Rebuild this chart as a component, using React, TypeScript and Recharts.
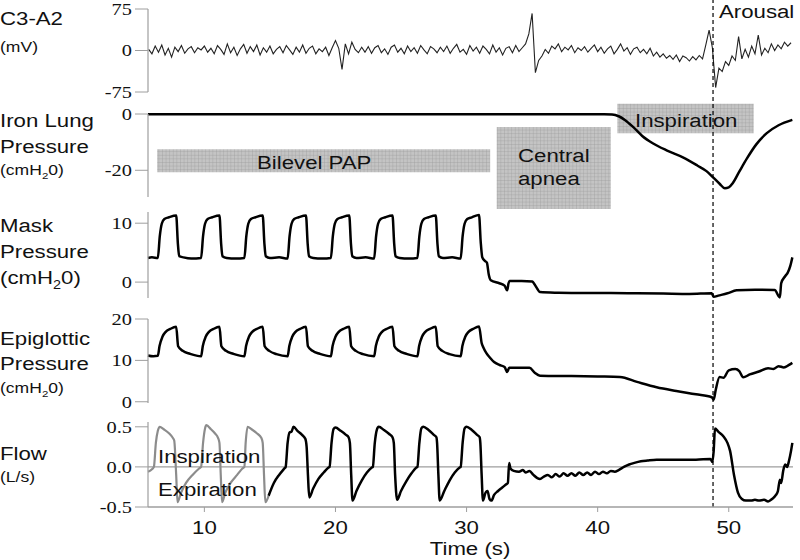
import React from 'react'
import { LineChart, Line, XAxis, YAxis, ReferenceArea, ReferenceLine } from 'recharts'

// time axis (s)
const X_DOMAIN: [number, number] = [5.7, 54.9]
const timeTicks = [10, 20, 30, 40, 50]

// C3-A2 EEG (mV), sampled every 0.25 s from 5.75 s
const eegStart = 5.75
const eegStep = 0.25
const eegValues = [
  2, -6, 8, -3, 10, -8, 4, -12, 6, -2, 9, -5, 3, 7, -4, 5, 1, 8, -3, 4,
  -6, 9, 2, -7, 12, -4, 6, -9, 3, 11, -5, 7, -2, 10, -8, 5, -3, 8, -6, 2,
  7, -4, 9, 1, -7, 6, -3, 10, -5, 4, 8, -6, 3, -2, 6, -9, 5, 18, 4, -34,
  12, -6, 15, 2, -4, 6, -3, 7, -5, 5, 9, -4, 3, -7, 6, 10, -3, 4, -6, 8,
  -2, 5, -5, 9, 1, -6, 7, 3, -4, 6, -2, 8, -5, 4, 11, -3, 2, -7, 9, -1,
  6, -5, 8, 2, -6, 10, -3, 5, -8, 4, 7, -4, 9, -2, 5, 12, 30, 67, -40, -18,
  -10, 2, -5, 8, 3, 12, -2, 6, 1, 9, -4, 5, 0, 7, -3, 4, 10, -2, 6, -5,
  3, 8, -6, 2, 12, -1, 5, -7, 3, 6, -4, 2, -6, 4, -10, -3, -12, -6, -14, -9,
  -16, -8, -20, -10, -13, -19, -11, -17, -9, -15, 10, 37, 5, -67, -32, -38, -20, -27, -10, -18,
  25, -15, 2, -12, 8, -6, 28, -8, 4, -4, 12, 0, 10, 3, 15, 8, 14,
]

// Iron lung pressure (cmH2O) [t, value]
const ironLung: [number, number][] = [
  [5.7, -0.1], [10, -0.1], [20, -0.1], [30, -0.05], [38, -0.1], [40.5, -0.1], [41.1, -0.2],
  [41.6, -0.8], [42.1, -2.2], [42.7, -4.6], [43.4, -7.8], [44.2, -10.4], [45.3, -13.0],
  [46.5, -15.4], [47.6, -18.3], [48.3, -20.3], [48.8, -22.5], [49.3, -24.8], [49.7, -26.4],
  [50.0, -26.1], [50.3, -24.6], [50.8, -20.5], [51.4, -15.7], [52.1, -10.8], [52.9, -6.8],
  [53.8, -4.0], [54.85, -2.1],
]

// Mask pressure (cmH2O)
const maskPressure: [number, number][] = [
  [5.7, 4.1], [6.0, 4.2], [6.45, 4.1],
  [6.6, 7.8], [6.75, 9.9], [6.95, 10.7], [7.3, 11.0], [7.85, 11.3], [7.98, 6.5], [8.08, 4.4], [8.4, 4.2], [9.0, 4.0], [9.75, 4.1],
  [9.9, 7.8], [10.05, 9.9], [10.25, 10.7], [10.6, 11.0], [11.15, 11.3], [11.28, 6.5], [11.38, 4.4], [11.7, 4.1], [12.4, 4.0], [13.05, 4.1],
  [13.2, 7.8], [13.35, 9.9], [13.55, 10.7], [13.9, 11.0], [14.45, 11.3], [14.58, 6.5], [14.68, 4.4], [15.0, 4.1], [15.7, 4.2], [16.35, 4.0],
  [16.5, 7.8], [16.65, 9.9], [16.85, 10.7], [17.2, 11.0], [17.75, 11.3], [17.88, 6.5], [17.98, 4.4], [18.3, 4.1], [19.0, 4.0], [19.65, 4.1],
  [19.8, 7.8], [19.95, 9.9], [20.15, 10.7], [20.5, 11.0], [21.05, 11.3], [21.18, 6.5], [21.28, 4.4], [21.6, 4.1], [22.3, 4.2], [22.95, 4.0],
  [23.1, 7.8], [23.25, 9.9], [23.45, 10.7], [23.8, 11.0], [24.35, 11.3], [24.48, 6.5], [24.58, 4.4], [24.9, 4.1], [25.6, 4.0], [26.25, 4.1],
  [26.4, 7.8], [26.55, 9.9], [26.75, 10.7], [27.1, 11.0], [27.65, 11.3], [27.78, 6.5], [27.88, 4.4], [28.2, 4.1], [28.9, 4.2], [29.55, 4.0],
  [29.7, 7.8], [29.85, 9.9], [30.05, 10.7], [30.4, 11.0], [30.95, 11.4], [31.08, 6.8], [31.2, 4.2], [31.4, 3.6],
  [31.55, 3.3], [31.7, 1.2], [31.85, 0.3], [32.5, -0.2], [32.9, -0.6], [33.1, -1.4], [33.2, -0.2], [33.3, 0.2],
  [34.2, 0.2], [35.0, 0.1], [35.3, -0.8], [35.6, -1.7], [37, -1.8], [39, -1.85], [41, -1.85], [43, -1.9],
  [45, -1.95], [47, -2.0], [48.7, -1.9], [48.85, -2.5], [49.2, -2.3], [49.9, -1.9], [50.6, -1.4], [52, -1.3],
  [53.5, -1.35], [53.9, -2.6], [54.0, -0.2], [54.3, 1.0], [54.5, 1.6], [54.7, 2.8], [54.85, 4.2],
]

// Epiglottic pressure (cmH2O)
const epiglotticPressure: [number, number][] = [
  [5.7, 11.2], [6.1, 11.0], [6.45, 11.1],
  [6.58, 13.5], [6.8, 15.7], [7.05, 16.9], [7.4, 17.6], [7.85, 18.1], [8.0, 13.4], [8.35, 12.3], [8.9, 11.6], [9.75, 11.0],
  [9.88, 13.5], [10.1, 15.7], [10.35, 16.9], [10.7, 17.6], [11.15, 18.1], [11.3, 13.4], [11.65, 12.3], [12.2, 11.6], [13.05, 11.0],
  [13.18, 13.5], [13.4, 15.7], [13.65, 16.9], [14.0, 17.6], [14.45, 18.1], [14.6, 13.4], [14.95, 12.3], [15.5, 11.5], [16.35, 11.0],
  [16.48, 13.5], [16.7, 15.7], [16.95, 16.9], [17.3, 17.6], [17.75, 18.1], [17.9, 13.4], [18.25, 12.3], [18.8, 11.6], [19.65, 11.0],
  [19.78, 13.5], [20.0, 15.7], [20.25, 16.9], [20.6, 17.6], [21.05, 18.1], [21.2, 13.4], [21.55, 12.3], [22.1, 11.5], [22.95, 11.0],
  [23.08, 13.5], [23.3, 15.7], [23.55, 16.9], [23.9, 17.6], [24.35, 18.1], [24.5, 13.4], [24.85, 12.3], [25.4, 11.6], [26.25, 11.0],
  [26.38, 13.5], [26.6, 15.7], [26.85, 16.9], [27.2, 17.6], [27.65, 18.1], [27.8, 13.4], [28.15, 12.3], [28.7, 11.5], [29.55, 11.0],
  [29.68, 13.5], [29.9, 15.7], [30.15, 16.9], [30.5, 17.6], [30.95, 18.2], [31.15, 14.2], [31.3, 13.0], [31.5, 11.8],
  [31.8, 10.6], [32.1, 9.6], [32.5, 8.9], [32.9, 8.4], [33.1, 7.2], [33.25, 8.2], [34.8, 8.2], [35.2, 7.0],
  [35.6, 6.3], [38, 6.2], [40, 6.1], [41.7, 6.0], [43, 4.8], [44.5, 3.5], [46, 2.6], [47.5, 1.8], [48.7, 1.1],
  [48.85, 0.5], [49.0, 2.8], [49.3, 6.0], [49.6, 5.8], [50.0, 7.6], [50.5, 7.9], [50.8, 7.4], [51.1, 5.9],
  [51.6, 6.6], [52.3, 7.3], [53.0, 8.1], [53.4, 7.9], [53.8, 8.6], [54.2, 8.3], [54.6, 8.9], [54.85, 9.4],
]

// Flow (L/s) - first breaths drawn in grey
const flowGrey: [number, number][] = [
  [5.7, -0.06], [6.0, -0.03], [6.15, 0.0], [6.3, 0.3], [6.45, 0.45], [6.6, 0.5], [6.9, 0.47], [7.3, 0.42],
  [7.6, 0.36], [7.7, 0.33], [7.85, -0.1], [7.95, -0.44], [8.2, -0.33], [8.6, -0.2], [9.1, -0.1], [9.6, -0.02],
  [9.75, 0.0], [9.9, 0.3], [10.05, 0.48], [10.15, 0.52], [10.5, 0.47], [10.8, 0.42], [11.05, 0.36], [11.15, 0.3],
  [11.25, -0.1], [11.35, -0.44], [11.6, -0.32], [12.0, -0.2], [12.5, -0.1], [12.9, -0.02], [13.05, 0.0], [13.15, 0.3],
  [13.3, 0.5], [13.6, 0.47], [14.0, 0.42], [14.35, 0.36], [14.45, 0.3], [14.55, -0.1], [14.65, -0.44], [14.9, -0.36],
]
const flowBlack: [number, number][] = [
  [14.9, -0.36], [15.3, -0.2], [15.7, -0.1], [16.1, -0.02],
  [16.2, 0.0], [16.35, 0.3], [16.5, 0.43], [16.65, 0.44], [16.8, 0.5], [17.1, 0.45], [17.45, 0.4], [17.7, 0.35],
  [17.8, 0.25], [17.9, -0.1], [18.0, -0.38], [18.3, -0.27], [18.7, -0.15], [19.1, -0.07], [19.45, -0.01],
  [19.55, 0.0], [19.7, 0.3], [19.85, 0.47], [20.0, 0.49], [20.4, 0.45], [20.8, 0.4], [21.0, 0.37], [21.1, 0.3],
  [21.2, -0.1], [21.3, -0.42], [21.6, -0.3], [22.0, -0.17], [22.4, -0.07], [22.75, -0.01],
  [22.85, 0.0], [23.0, 0.3], [23.15, 0.46], [23.3, 0.5], [23.7, 0.46], [24.1, 0.41], [24.35, 0.37], [24.45, 0.3],
  [24.55, -0.1], [24.7, -0.41], [25.0, -0.3], [25.4, -0.18], [25.8, -0.08], [26.15, -0.01],
  [26.25, 0.0], [26.4, 0.3], [26.55, 0.48], [26.7, 0.5], [27.1, 0.46], [27.5, 0.4], [27.7, 0.37], [27.75, 0.3],
  [27.85, -0.1], [27.95, -0.42], [28.3, -0.3], [28.7, -0.17], [29.1, -0.07], [29.45, -0.01],
  [29.55, 0.0], [29.7, 0.3], [29.85, 0.48], [30.0, 0.5], [30.4, 0.46], [30.8, 0.4], [31.0, 0.37], [31.05, 0.3],
  [31.15, -0.1], [31.25, -0.42], [31.45, -0.32], [31.6, -0.3], [31.75, -0.4], [31.9, -0.42], [32.1, -0.35],
  [32.4, -0.3], [32.7, -0.26], [33.0, -0.22], [33.15, -0.2], [33.25, 0.05], [33.35, -0.02], [33.6, -0.05],
  [34.0, -0.06], [34.3, -0.04], [34.5, -0.07], [34.8, -0.05], [35.1, -0.1], [35.4, -0.14], [35.6, -0.15],
  [35.9, -0.12], [36.2, -0.1], [36.5, -0.13], [36.8, -0.09], [37.1, -0.12], [37.4, -0.08], [37.7, -0.11],
  [38.0, -0.08], [38.3, -0.11], [38.6, -0.07], [38.9, -0.1], [39.2, -0.07], [39.5, -0.1], [39.8, -0.06],
  [40.1, -0.09], [40.4, -0.06], [40.7, -0.08], [41.0, -0.05], [41.3, -0.06], [41.6, -0.04], [42.0, 0.0],
  [42.4, 0.03], [42.8, 0.05], [43.3, 0.07], [43.8, 0.08], [44.5, 0.09], [46, 0.09], [47.5, 0.09], [48.6, 0.1],
  [48.75, 0.06], [48.85, 0.2], [48.95, 0.48], [49.2, 0.44], [49.6, 0.38], [49.9, 0.3], [50.1, 0.2], [50.4, -0.1],
  [50.7, -0.32], [51.0, -0.4], [51.3, -0.42], [51.7, -0.42], [52.0, -0.41], [52.3, -0.42], [52.7, -0.41],
  [53.0, -0.43], [53.3, -0.4], [53.6, -0.35], [53.75, -0.3], [53.9, -0.16], [54.0, -0.2], [54.15, -0.05],
  [54.3, 0.03], [54.45, 0.0], [54.6, 0.08], [54.75, 0.2], [54.85, 0.3],
]

// annotations
const arousalTime = 48.8
const bilevelBox = { x1: 6.4, x2: 31.8, y1: -12.5, y2: -20.7 }
const apneaBox = { x1: 32.3, x2: 41.0, y1: -4.6, y2: -33.8 }
const inspBox = { x1: 41.5, x2: 51.9, y1: 3.6, y2: -6.8 }

const W = 800
const H = 560
const PLOT_LEFT = 148
const PLOT_RIGHT = 793
const AXIS_W = 60
const STRETCH = 1.17
const SANS = '"Liberation Sans", Arial, sans-serif'
const SERIF = '"Liberation Serif", "DejaVu Serif", serif'
const GREY = '#9e9e9e'

const rows = (pts: [number, number][]) => pts.map(([t, v]) => ({ t, v }))
const eegRows = eegValues.map((v, i) => ({ t: eegStart + i * eegStep, v }))

function SerifTick(props: any) {
  const { x, y, payload, digits = 0 } = props
  return (
    <g transform={`translate(${x},${y}) scale(1.2,1)`}>
      <text textAnchor="end" dy="0.35em" fontFamily={SERIF} fontSize={17} fill="#111">
        {Number(payload.value).toFixed(digits)}
      </text>
    </g>
  )
}

function TimeTick(props: any) {
  const { x, y, payload } = props
  return (
    <g transform={`translate(${x},${y}) scale(${STRETCH},1)`}>
      <text textAnchor="middle" dy="0.71em" fontFamily={SANS} fontSize={19} fill="#111">
        {payload.value}
      </text>
    </g>
  )
}

function Trace({ top, bottom, yDomain, yTicks, digits = 0, showTime = false, children }: any) {
  return (
    <div style={{ position: 'absolute', left: 0, top: 0 }}>
      <LineChart
        width={W}
        height={H}
        margin={{ top, bottom: H - bottom - (showTime ? 30 : 0), left: PLOT_LEFT - AXIS_W, right: W - PLOT_RIGHT }}
      >
        <XAxis
          dataKey="t"
          type="number"
          domain={X_DOMAIN}
          ticks={timeTicks}
          hide={!showTime}
          height={30}
          tickSize={5}
          tickMargin={9}
          axisLine={{ stroke: GREY, strokeWidth: 1.5 }}
          tickLine={{ stroke: GREY }}
          tick={<TimeTick />}
        />
        <YAxis
          type="number"
          domain={yDomain}
          ticks={yTicks}
          interval={0}
          width={AXIS_W}
          tickSize={13}
          tickMargin={3}
          axisLine={{ stroke: GREY, strokeWidth: 1.2 }}
          tickLine={{ stroke: GREY }}
          tick={(p: any) => <SerifTick {...p} digits={digits} />}
        />
        {children}
      </LineChart>
    </div>
  )
}

function Txt({ x, y, size = 19, anchor = 'start', children }: any) {
  return (
    <text
      transform={`translate(${x} ${y}) scale(${STRETCH} 1)`}
      fontFamily={SANS}
      fontSize={size}
      textAnchor={anchor}
      fill="#111"
    >
      {children}
    </text>
  )
}

function CmH2O({ x, y, size }: any) {
  return (
    <Txt x={x} y={y} size={size}>
      <tspan>(cmH</tspan>
      <tspan fontSize={size * 0.65} dy={size * 0.25}>2</tspan>
      <tspan dy={-size * 0.25}>0)</tspan>
    </Txt>
  )
}

export default function App() {
  const box = { fill: 'url(#hatch)', fillOpacity: 1, stroke: 'none', ifOverflow: 'visible' as const }
  return (
    <div style={{ position: 'relative', width: W, height: H, background: '#fff', overflow: 'hidden' }}>
      <style>{'body{margin:0}'}</style>
      <svg width={0} height={0} style={{ position: 'absolute' }}>
        <defs>
          <pattern id="hatch" width={3.6} height={3.6} patternUnits="userSpaceOnUse">
            <rect width={3.6} height={3.6} fill="#c4c4c4" />
            <path d="M 3.6 0 L 0 0 0 3.6" fill="none" stroke="#9a9a9a" strokeWidth={0.7} />
          </pattern>
        </defs>
      </svg>

      <Trace top={9} bottom={92} yDomain={[-75, 75]} yTicks={[-75, 0, 75]}>
        <Line data={eegRows} dataKey="v" type="linear" stroke="#222" strokeWidth={1.1} dot={false} activeDot={false} isAnimationActive={false} />
      </Trace>

      <Trace top={114} bottom={197} yDomain={[-29.5, 0]} yTicks={[-20, 0]}>
        <ReferenceArea {...bilevelBox} {...box} />
        <ReferenceArea {...apneaBox} {...box} />
        <ReferenceArea {...inspBox} {...box} />
        <Line data={rows(ironLung)} dataKey="v" type="monotone" stroke="#000" strokeWidth={2.5} dot={false} activeDot={false} isAnimationActive={false} />
      </Trace>

      <Trace top={212} bottom={298} yDomain={[-2.7, 11.9]} yTicks={[0, 10]}>
        <Line data={rows(maskPressure)} dataKey="v" type="monotone" stroke="#000" strokeWidth={2.5} dot={false} activeDot={false} isAnimationActive={false} />
      </Trace>

      <Trace top={319} bottom={403} yDomain={[-0.3, 20]} yTicks={[0, 10, 20]}>
        <Line data={rows(epiglotticPressure)} dataKey="v" type="monotone" stroke="#000" strokeWidth={2.5} dot={false} activeDot={false} isAnimationActive={false} />
      </Trace>

      <Trace top={422} bottom={507} yDomain={[-0.5, 0.56]} yTicks={[-0.5, 0, 0.5]} digits={1} showTime>
        <ReferenceLine y={0} stroke={GREY} strokeWidth={1.2} />
        <Line data={rows(flowGrey)} dataKey="v" type="monotone" stroke="#8c8c8c" strokeWidth={2.2} dot={false} activeDot={false} isAnimationActive={false} />
        <Line data={rows(flowBlack)} dataKey="v" type="monotone" stroke="#000" strokeWidth={2.5} dot={false} activeDot={false} isAnimationActive={false} />
        <ReferenceLine
          segment={[{ x: arousalTime, y: -0.5 }, { x: arousalTime, y: 5.85 }]}
          ifOverflow="visible"
          stroke="#000"
          strokeWidth={1.2}
          strokeDasharray="4 3"
        />
      </Trace>

      <svg width={W} height={H} style={{ position: 'absolute', left: 0, top: 0, pointerEvents: 'none' }}>
        <Txt x={0} y={25}>C3-A2</Txt>
        <Txt x={0} y={52} size={15}>(mV)</Txt>
        <Txt x={0} y={127}>Iron Lung</Txt>
        <Txt x={0} y={153}>Pressure</Txt>
        <CmH2O x={0} y={175} size={15} />
        <Txt x={0} y={232}>Mask</Txt>
        <Txt x={0} y={258}>Pressure</Txt>
        <CmH2O x={0} y={284} size={19} />
        <Txt x={0} y={345}>Epiglottic</Txt>
        <Txt x={0} y={370}>Pressure</Txt>
        <CmH2O x={0} y={393} size={15} />
        <Txt x={0} y={460}>Flow</Txt>
        <Txt x={0} y={482} size={15}>(L/s)</Txt>

        <Txt x={719} y={18}>Arousal</Txt>
        <Txt x={257} y={169}>Bilevel PAP</Txt>
        <Txt x={518} y={162}>Central</Txt>
        <Txt x={518} y={185}>apnea</Txt>
        <Txt x={635} y={127}>Inspiration</Txt>
        <Txt x={158} y={463}>Inspiration</Txt>
        <Txt x={158} y={496}>Expiration</Txt>
        <Txt x={470} y={555} anchor="middle">Time (s)</Txt>
      </svg>
    </div>
  )
}
